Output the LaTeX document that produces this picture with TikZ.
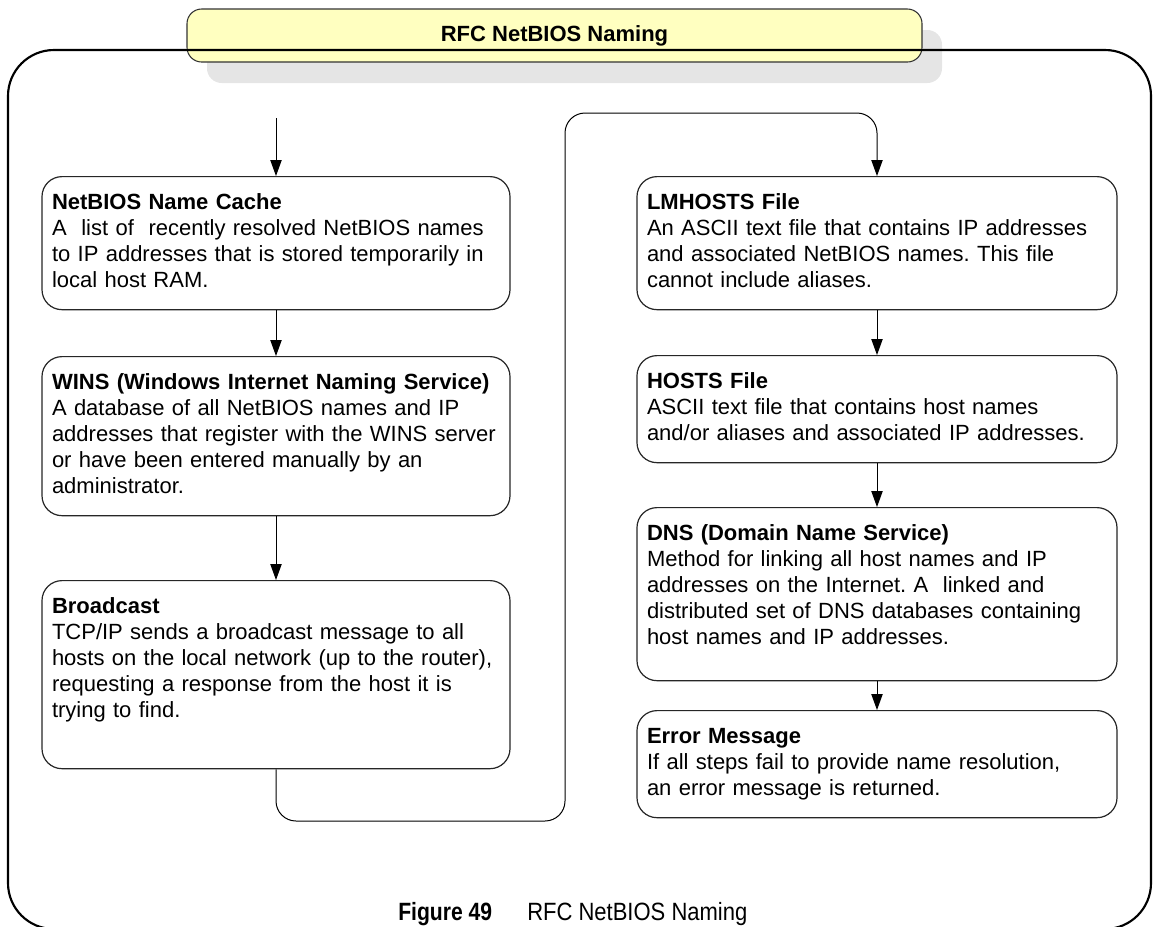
\documentclass[tikz,border=0pt]{standalone}
\usepackage{fontspec}
\setmainfont{Liberation Sans}
\newfontfamily\captionfont[FakeStretch=0.88, BoldFeatures={FakeStretch=0.845}]{Liberation Sans}
\usepackage{tikz}
\usetikzlibrary{positioning, arrows.meta, shadows}
\definecolor{tabyellow}{HTML}{FFFFC0}
\definecolor{shadowgray}{HTML}{E5E5E5}
\newcommand{\boxfont}{\fontsize{16.5}{19.5}\selectfont\frenchspacing}
\tikzset{
    step box/.style={draw=black!85, line width=0.9pt, rounded corners=15pt, fill=white, anchor=north, align=left,
        inner xsep=7.5pt, inner ysep=10.9pt, font=\boxfont, execute at begin node=\strut, execute at end node=\strut},
    left col/.style={text width=336pt},
    right col/.style={text width=345pt},
    title tab/.style={draw=black!80, line width=0.8pt, rounded corners=11pt, fill=tabyellow, minimum width=551.25pt,
        minimum height=39.75pt, inner sep=0pt, font=\boxfont\bfseries,
        drop shadow={shadow xshift=15pt, shadow yshift=-15.75pt, fill=shadowgray, opacity=1}},
    frame line/.style={line width=1.6pt, rounded corners=34.5pt},
    flow arrow/.style={line width=0.75pt, -{Triangle[length=12pt, width=8.5pt]}},
    caption text/.style={anchor=base west, inner sep=0pt},
}

\begin{document}
\begin{tikzpicture}[x=0.75pt, y=-0.75pt]
    \useasboundingbox (0,0) rectangle (1153,926);
    \clip (0,0) rectangle (1153,926);
    % heading tab and outer frame
    \node[title tab] (title) at (554.5,35.5) {RFC NetBIOS Naming};
    \draw[frame line] (8,50) rectangle (1151,929);

    % left column
    \node[step box, left col] (cache) at (276,176) {\textbf{NetBIOS Name Cache}\\
        A~ list of~ recently resolved NetBIOS names\\
        to IP addresses that is stored temporarily in\\
        local host RAM.};
    \node[step box, left col] (wins) at (276,356) {\textbf{WINS (Windows Internet Naming Service)}\\
        A database of all NetBIOS names and IP\\
        addresses that register with the WINS server\\
        or have been entered manually by an\\
        administrator.};
    \node[step box, left col] (bcast) at (276,580) {\textbf{Broadcast}\\
        TCP/IP sends a broadcast message to all\\
        hosts on the local network (up to the router),\\
        requesting a response from the host it is\\
        trying to find.\\[2.25pt]\mbox{}};

    % right column
    \node[step box, right col] (lmhosts) at (877,176) {\textbf{LMHOSTS File}\\
        An ASCII text file that contains IP addresses\\
        and associated NetBIOS names. This file\\
        cannot include aliases.};
    \node[step box, right col] (hosts) at (877,355) {\textbf{HOSTS File}\\
        ASCII text file that contains host names\\
        and/or aliases and associated IP addresses.};
    \node[step box, right col] (dns) at (877,507) {\textbf{DNS (Domain Name Service)}\\
        Method for linking all host names and IP\\
        addresses on the Internet. A~ linked and\\
        distributed set of DNS databases containing\\
        host names and IP addresses.\\[-9pt]\mbox{}};
    \node[step box, right col] (errmsg) at (877,710) {\textbf{Error Message}\\
        If all steps fail to provide name resolution,\\
        an error message is returned.};

    % flow
    \coordinate (entry) at (276,118);
    \coordinate (turn low) at (565,821);
    \coordinate (turn high) at (565,113);
    \draw[flow arrow] (entry) -- (cache);
    \draw[flow arrow] (cache) -- (wins);
    \draw[flow arrow] (wins) -- (bcast);
    \draw[flow arrow, rounded corners=15pt] (bcast.south) |- (turn low) -- (turn high) -| (lmhosts.north);
    \draw[flow arrow] (lmhosts) -- (hosts);
    \draw[flow arrow] (hosts) -- (dns);
    \draw[flow arrow] (dns) -- (errmsg);

    % caption
    \node[caption text, font=\captionfont\fontsize{18.75}{22}\selectfont\bfseries] (fignum) at (398,920) {Figure 49};
    \node[caption text, font=\captionfont\fontsize{18.75}{22}\selectfont] (figname) at (527,920) {RFC NetBIOS Naming};
\end{tikzpicture}
\end{document}
